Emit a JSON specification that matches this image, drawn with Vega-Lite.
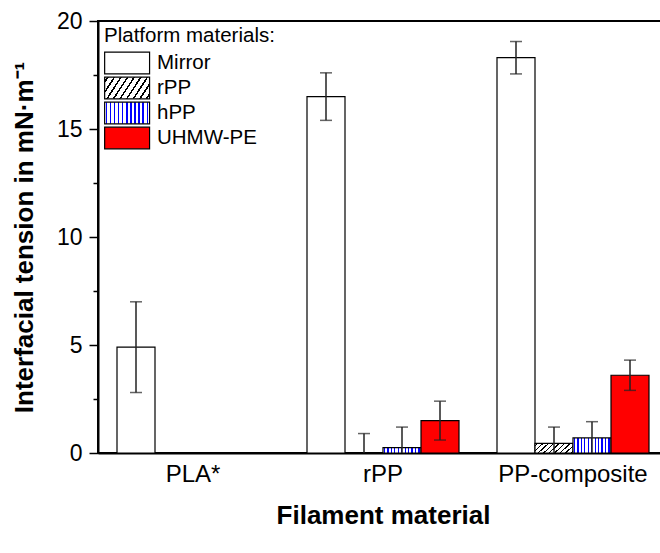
{
  "$schema": "https://vega.github.io/schema/vega-lite/v6.json",
  "width": 570,
  "height": 432,
  "autosize": {"type": "none"},
  "padding": {"left": 98, "top": 21, "right": 0, "bottom": 100},
  "background": "white",
  "config": {
    "font": "Liberation Sans",
    "view": {"stroke": "black", "strokeWidth": 2},
    "axis": {"labelColor": "black", "titleColor": "black", "domainColor": "black", "tickColor": "black", "grid": false}
  },
  "data": {
    "values": [
      {"filament": "PLA*", "platform": "Mirror", "value": 4.9, "lo": 2.8, "hi": 7.0},
      {"filament": "rPP", "platform": "Mirror", "value": 16.5, "lo": 15.4, "hi": 17.6},
      {"filament": "rPP", "platform": "rPP", "value": 0.0, "lo": -0.9, "hi": 0.9},
      {"filament": "rPP", "platform": "hPP", "value": 0.25, "lo": -0.7, "hi": 1.2},
      {"filament": "rPP", "platform": "UHMW-PE", "value": 1.5, "lo": 0.6, "hi": 2.4},
      {"filament": "PP-composite", "platform": "Mirror", "value": 18.3, "lo": 17.55, "hi": 19.05},
      {"filament": "PP-composite", "platform": "rPP", "value": 0.45, "lo": -0.3, "hi": 1.2},
      {"filament": "PP-composite", "platform": "hPP", "value": 0.7, "lo": -0.05, "hi": 1.45},
      {"filament": "PP-composite", "platform": "UHMW-PE", "value": 3.6, "lo": 2.9, "hi": 4.3}
    ]
  },
  "encoding": {
    "x": {
      "field": "filament",
      "type": "nominal",
      "sort": ["PLA*", "rPP", "PP-composite"],
      "scale": {"paddingInner": 0.2, "paddingOuter": 0.1},
      "axis": {
        "title": "Filament material",
        "labelAngle": 0,
        "labelFontSize": 24,
        "labelPadding": 9,
        "ticks": false,
        "domainWidth": 2,
        "titleFontSize": 26,
        "titleFontWeight": "bold",
        "titlePadding": 16
      }
    },
    "xOffset": {
      "field": "platform",
      "type": "nominal",
      "scale": {"domain": ["Mirror", "rPP", "hPP", "UHMW-PE"], "paddingInner": 0, "paddingOuter": 0}
    }
  },
  "layer": [
    {
      "mark": {"type": "bar", "stroke": "black", "strokeWidth": 1.2, "clip": true},
      "encoding": {
        "y": {
          "field": "value",
          "type": "quantitative",
          "scale": {"domain": [0, 20], "nice": false},
          "axis": {
            "title": "Interfacial tension in mN·m⁻¹",
            "values": [0, 2.5, 5, 7.5, 10, 12.5, 15, 17.5, 20],
            "labelExpr": "datum.value % 5 === 0 ? datum.label : ''",
            "tickSize": {"condition": {"test": "datum.value % 5 === 0", "value": 9}, "value": 5},
            "tickWidth": 1.5,
            "domainWidth": 2,
            "labelFontSize": 23,
            "labelPadding": 7,
            "titleFontSize": 26,
            "titleFontWeight": "bold",
            "titlePadding": 19
          }
        },
        "fill": {
          "condition": [
            {"test": "datum.platform === 'rPP'", "value": {"gradient": "linear", "x1": 0, "y1": 0, "x2": 1.2, "y2": 0.33, "stops": [
                {"offset": 0, "color": "#ffffff"},
                {"offset": 0.04, "color": "#ffffff"}, {"offset": 0.04, "color": "#000000"}, {"offset": 0.07, "color": "#000000"}, {"offset": 0.07, "color": "#ffffff"},
                {"offset": 0.151, "color": "#ffffff"}, {"offset": 0.151, "color": "#000000"}, {"offset": 0.181, "color": "#000000"}, {"offset": 0.181, "color": "#ffffff"},
                {"offset": 0.262, "color": "#ffffff"}, {"offset": 0.262, "color": "#000000"}, {"offset": 0.292, "color": "#000000"}, {"offset": 0.292, "color": "#ffffff"},
                {"offset": 0.373, "color": "#ffffff"}, {"offset": 0.373, "color": "#000000"}, {"offset": 0.403, "color": "#000000"}, {"offset": 0.403, "color": "#ffffff"},
                {"offset": 0.484, "color": "#ffffff"}, {"offset": 0.484, "color": "#000000"}, {"offset": 0.514, "color": "#000000"}, {"offset": 0.514, "color": "#ffffff"},
                {"offset": 0.596, "color": "#ffffff"}, {"offset": 0.596, "color": "#000000"}, {"offset": 0.626, "color": "#000000"}, {"offset": 0.626, "color": "#ffffff"},
                {"offset": 0.707, "color": "#ffffff"}, {"offset": 0.707, "color": "#000000"}, {"offset": 0.737, "color": "#000000"}, {"offset": 0.737, "color": "#ffffff"},
                {"offset": 0.818, "color": "#ffffff"}, {"offset": 0.818, "color": "#000000"}, {"offset": 0.848, "color": "#000000"}, {"offset": 0.848, "color": "#ffffff"},
                {"offset": 0.929, "color": "#ffffff"}, {"offset": 0.929, "color": "#000000"}, {"offset": 0.959, "color": "#000000"}, {"offset": 0.959, "color": "#ffffff"},
                {"offset": 1, "color": "#ffffff"}
              ]}},
            {"test": "datum.platform === 'hPP'", "value": {"gradient": "linear", "x1": 0, "y1": 0, "x2": 1, "y2": 0, "stops": [
                {"offset": 0, "color": "#ffffff"},
                {"offset": 0.023, "color": "#ffffff"}, {"offset": 0.023, "color": "#0000ff"}, {"offset": 0.055, "color": "#0000ff"}, {"offset": 0.055, "color": "#ffffff"},
                {"offset": 0.114, "color": "#ffffff"}, {"offset": 0.114, "color": "#0000ff"}, {"offset": 0.146, "color": "#0000ff"}, {"offset": 0.146, "color": "#ffffff"},
                {"offset": 0.205, "color": "#ffffff"}, {"offset": 0.205, "color": "#0000ff"}, {"offset": 0.237, "color": "#0000ff"}, {"offset": 0.237, "color": "#ffffff"},
                {"offset": 0.296, "color": "#ffffff"}, {"offset": 0.296, "color": "#0000ff"}, {"offset": 0.328, "color": "#0000ff"}, {"offset": 0.328, "color": "#ffffff"},
                {"offset": 0.387, "color": "#ffffff"}, {"offset": 0.387, "color": "#0000ff"}, {"offset": 0.419, "color": "#0000ff"}, {"offset": 0.419, "color": "#ffffff"},
                {"offset": 0.478, "color": "#ffffff"}, {"offset": 0.478, "color": "#0000ff"}, {"offset": 0.51, "color": "#0000ff"}, {"offset": 0.51, "color": "#ffffff"},
                {"offset": 0.568, "color": "#ffffff"}, {"offset": 0.568, "color": "#0000ff"}, {"offset": 0.6, "color": "#0000ff"}, {"offset": 0.6, "color": "#ffffff"},
                {"offset": 0.659, "color": "#ffffff"}, {"offset": 0.659, "color": "#0000ff"}, {"offset": 0.691, "color": "#0000ff"}, {"offset": 0.691, "color": "#ffffff"},
                {"offset": 0.75, "color": "#ffffff"}, {"offset": 0.75, "color": "#0000ff"}, {"offset": 0.782, "color": "#0000ff"}, {"offset": 0.782, "color": "#ffffff"},
                {"offset": 0.841, "color": "#ffffff"}, {"offset": 0.841, "color": "#0000ff"}, {"offset": 0.873, "color": "#0000ff"}, {"offset": 0.873, "color": "#ffffff"},
                {"offset": 0.932, "color": "#ffffff"}, {"offset": 0.932, "color": "#0000ff"}, {"offset": 0.964, "color": "#0000ff"}, {"offset": 0.964, "color": "#ffffff"},
                {"offset": 1, "color": "#ffffff"}
              ]}},
            {"test": "datum.platform === 'UHMW-PE'", "value": "#ff0000"}
          ],
          "value": "#ffffff"
        }
      }
    },
    {
      "mark": {"type": "rule", "color": "#222222", "strokeWidth": 1.5, "clip": true},
      "encoding": {
        "y": {"field": "lo", "type": "quantitative"},
        "y2": {"field": "hi"}
      }
    },
    {
      "mark": {"type": "tick", "color": "#222222", "thickness": 1.5, "size": 12, "clip": true, "orient": "horizontal"},
      "encoding": {
        "y": {"field": "hi", "type": "quantitative"}
      }
    },
    {
      "mark": {"type": "tick", "color": "#222222", "thickness": 1.5, "size": 12, "clip": true, "orient": "horizontal"},
      "encoding": {
        "y": {"field": "lo", "type": "quantitative"}
      }
    },
    {
      "mark": {"type": "point", "opacity": 0, "stroke": "black", "clip": true},
      "encoding": {
        "y": {"field": "value", "type": "quantitative"},
        "fill": {
          "field": "platform",
          "type": "nominal",
          "scale": {
            "domain": ["Mirror", "rPP", "hPP", "UHMW-PE"],
            "range": [
              "#ffffff",
              {"expr": "{gradient: 'linear', x1: 0, y1: 0, x2: 1.2, y2: 0.38, stops: [{offset: 0, color: '#ffffff'}, {offset: 0.04, color: '#ffffff'}, {offset: 0.04, color: '#000000'}, {offset: 0.07, color: '#000000'}, {offset: 0.07, color: '#ffffff'}, {offset: 0.151, color: '#ffffff'}, {offset: 0.151, color: '#000000'}, {offset: 0.181, color: '#000000'}, {offset: 0.181, color: '#ffffff'}, {offset: 0.262, color: '#ffffff'}, {offset: 0.262, color: '#000000'}, {offset: 0.292, color: '#000000'}, {offset: 0.292, color: '#ffffff'}, {offset: 0.373, color: '#ffffff'}, {offset: 0.373, color: '#000000'}, {offset: 0.403, color: '#000000'}, {offset: 0.403, color: '#ffffff'}, {offset: 0.484, color: '#ffffff'}, {offset: 0.484, color: '#000000'}, {offset: 0.514, color: '#000000'}, {offset: 0.514, color: '#ffffff'}, {offset: 0.596, color: '#ffffff'}, {offset: 0.596, color: '#000000'}, {offset: 0.626, color: '#000000'}, {offset: 0.626, color: '#ffffff'}, {offset: 0.707, color: '#ffffff'}, {offset: 0.707, color: '#000000'}, {offset: 0.737, color: '#000000'}, {offset: 0.737, color: '#ffffff'}, {offset: 0.818, color: '#ffffff'}, {offset: 0.818, color: '#000000'}, {offset: 0.848, color: '#000000'}, {offset: 0.848, color: '#ffffff'}, {offset: 0.929, color: '#ffffff'}, {offset: 0.929, color: '#000000'}, {offset: 0.959, color: '#000000'}, {offset: 0.959, color: '#ffffff'}, {offset: 1, color: '#ffffff'}]}"},
              {"expr": "{gradient: 'linear', x1: 0, y1: 0, x2: 1, y2: 0, stops: [{offset: 0, color: '#ffffff'}, {offset: 0.023, color: '#ffffff'}, {offset: 0.023, color: '#0000ff'}, {offset: 0.055, color: '#0000ff'}, {offset: 0.055, color: '#ffffff'}, {offset: 0.114, color: '#ffffff'}, {offset: 0.114, color: '#0000ff'}, {offset: 0.146, color: '#0000ff'}, {offset: 0.146, color: '#ffffff'}, {offset: 0.205, color: '#ffffff'}, {offset: 0.205, color: '#0000ff'}, {offset: 0.237, color: '#0000ff'}, {offset: 0.237, color: '#ffffff'}, {offset: 0.296, color: '#ffffff'}, {offset: 0.296, color: '#0000ff'}, {offset: 0.328, color: '#0000ff'}, {offset: 0.328, color: '#ffffff'}, {offset: 0.387, color: '#ffffff'}, {offset: 0.387, color: '#0000ff'}, {offset: 0.419, color: '#0000ff'}, {offset: 0.419, color: '#ffffff'}, {offset: 0.478, color: '#ffffff'}, {offset: 0.478, color: '#0000ff'}, {offset: 0.51, color: '#0000ff'}, {offset: 0.51, color: '#ffffff'}, {offset: 0.568, color: '#ffffff'}, {offset: 0.568, color: '#0000ff'}, {offset: 0.6, color: '#0000ff'}, {offset: 0.6, color: '#ffffff'}, {offset: 0.659, color: '#ffffff'}, {offset: 0.659, color: '#0000ff'}, {offset: 0.691, color: '#0000ff'}, {offset: 0.691, color: '#ffffff'}, {offset: 0.75, color: '#ffffff'}, {offset: 0.75, color: '#0000ff'}, {offset: 0.782, color: '#0000ff'}, {offset: 0.782, color: '#ffffff'}, {offset: 0.841, color: '#ffffff'}, {offset: 0.841, color: '#0000ff'}, {offset: 0.873, color: '#0000ff'}, {offset: 0.873, color: '#ffffff'}, {offset: 0.932, color: '#ffffff'}, {offset: 0.932, color: '#0000ff'}, {offset: 0.964, color: '#0000ff'}, {offset: 0.964, color: '#ffffff'}, {offset: 1, color: '#ffffff'}]}"},
              "#ff0000"
            ]
          },
          "legend": {
            "orient": "none",
            "legendX": 6,
            "legendY": 5,
            "title": "Platform materials:",
            "titleFontSize": 20.5,
            "titleFontWeight": "normal",
            "titleColor": "black",
            "titlePadding": 5,
            "labelFontSize": 20.5,
            "labelColor": "black",
            "labelOffset": 30,
            "symbolSize": 471,
            "symbolOpacity": 1,
            "symbolStrokeWidth": 1.2,
            "rowPadding": -2.7
          }
        },
        "shape": {
          "field": "platform",
          "type": "nominal",
          "scale": {
            "domain": ["Mirror", "rPP", "hPP", "UHMW-PE"],
            "range": ["M-1,-1H3.14V1H-1Z", "M-1,-1H3.14V1H-1Z", "M-1,-1H3.14V1H-1Z", "M-1,-1H3.14V1H-1Z"]
          },
          "legend": {
            "orient": "none",
            "legendX": 6,
            "legendY": 5,
            "title": "Platform materials:",
            "titleFontSize": 20.5,
            "titleFontWeight": "normal",
            "titleColor": "black",
            "titlePadding": 5,
            "labelFontSize": 20.5,
            "labelColor": "black",
            "labelOffset": 30,
            "symbolSize": 471,
            "symbolOpacity": 1,
            "symbolStrokeWidth": 1.2,
            "rowPadding": -2.7
          }
        }
      }
    }
  ]
}
